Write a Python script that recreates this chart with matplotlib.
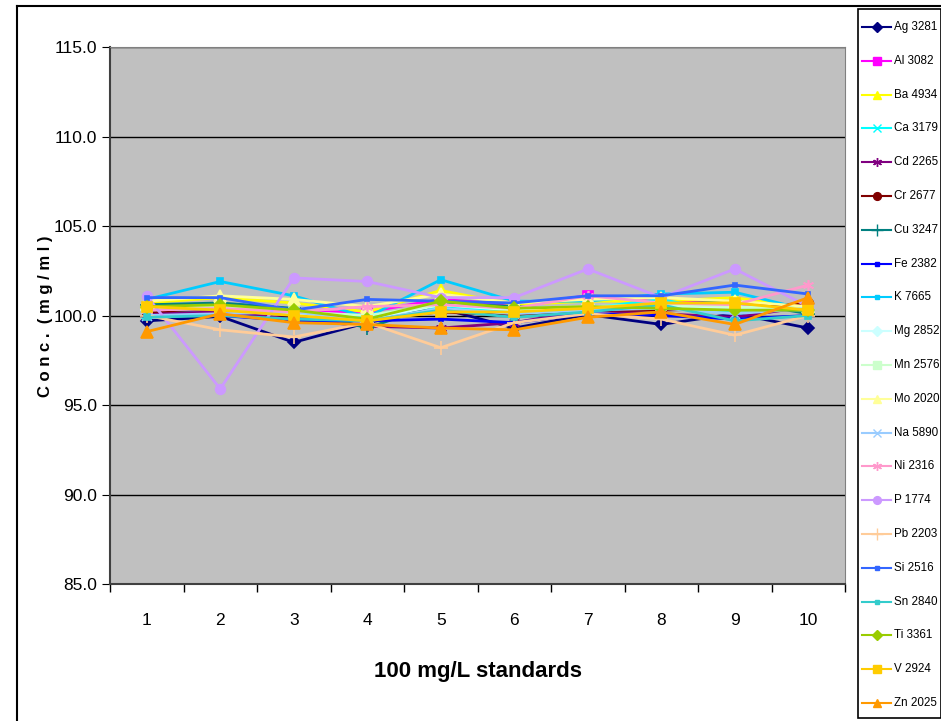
import matplotlib
matplotlib.use("Agg")
import matplotlib.pyplot as plt
from matplotlib.lines import Line2D
from matplotlib.patches import Rectangle

plt.rcParams['font.family'] = ['Liberation Sans', 'DejaVu Sans']

# data
standards = [1, 2, 3, 4, 5, 6, 7, 8, 9, 10]

ag = [99.7, 99.95, 98.5, 99.6, 100.4, 99.3, 100.05, 99.5, 100.1, 99.3]
al = [100.4, 100.5, 100.2, 100.2, 100.9, 100.6, 101.1, 100.9, 100.6, 100.4]
ba = [100.7, 101.0, 100.7, 100.2, 101.4, 100.6, 100.8, 100.8, 101.0, 100.4]
ca = [100.1, 100.4, 100.1, 99.9, 100.5, 100.2, 100.4, 100.9, 100.1, 100.5]
cd = [100.1, 100.2, 99.8, 99.4, 99.3, 99.6, 100.3, 100.1, 99.9, 100.5]
cr = [100.2, 100.4, 100.0, 99.8, 100.2, 100.0, 100.3, 100.3, 100.4, 100.7]
cu = [100.6, 100.7, 100.4, 99.3, 100.7, 100.5, 100.3, 100.6, 100.8, 100.1]
fe = [100.0, 100.0, 99.7, 99.7, 99.8, 99.6, 100.1, 100.0, 99.8, 100.0]
k = [100.9, 101.9, 101.1, 99.9, 102.0, 100.8, 100.8, 101.2, 101.3, 100.3]
mg = [100.3, 100.4, 100.1, 99.8, 100.6, 100.3, 100.4, 100.5, 100.4, 100.3]
mn = [100.4, 100.5, 100.2, 100.0, 100.6, 100.4, 100.5, 100.6, 100.5, 100.4]
mo = [100.8, 101.1, 100.9, 100.5, 101.2, 100.7, 100.9, 101.0, 100.8, 100.5]
na = [100.0, 100.1, 100.2, 99.7, 100.4, 100.1, 100.3, 100.4, 100.1, 100.4]
ni = [100.3, 100.4, 100.2, 100.5, 100.6, 100.4, 101.1, 100.7, 100.6, 101.7]
p = [101.1, 95.9, 102.1, 101.9, 101.0, 101.0, 102.6, 101.0, 102.6, 100.5]
pb = [100.0, 99.2, 98.8, 99.6, 98.2, 99.6, 100.1, 99.8, 98.9, 100.0]
si = [101.0, 101.0, 100.3, 100.9, 100.8, 100.7, 101.1, 101.1, 101.7, 101.2]
sn = [99.9, 100.0, 99.8, 99.7, 100.3, 99.9, 100.2, 100.6, 99.7, 100.0]
ti = [100.5, 100.6, 100.3, 99.8, 100.8, 100.4, 100.5, 100.4, 100.3, 100.3]
v = [100.5, 100.3, 100.0, 99.7, 100.2, 100.2, 100.4, 100.7, 100.7, 100.3]
zn = [99.1, 100.1, 99.6, 99.5, 99.3, 99.2, 99.9, 100.2, 99.5, 101.0]

labels = ['Ag 3281', 'Al 3082', 'Ba 4934', 'Ca 3179', 'Cd 2265', 'Cr 2677', 'Cu 3247',
          'Fe 2382', 'K 7665', 'Mg 2852', 'Mn 2576', 'Mo 2020', 'Na 5890', 'Ni 2316',
          'P 1774', 'Pb 2203', 'Si 2516', 'Sn 2840', 'Ti 3361', 'V 2924', 'Zn 2025']
series = [ag, al, ba, ca, cd, cr, cu, fe, k, mg, mn, mo, na, ni, p, pb, si, sn, ti, v, zn]

# styles (Excel default series palette)
colors = ['#000080', '#FF00FF', '#FFFF00', '#00FFFF', '#800080', '#800000', '#008080',
          '#0000FF', '#00CCFF', '#CCFFFF', '#CCFFCC', '#FFFF99', '#99CCFF', '#FF99CC',
          '#CC99FF', '#FFCC99', '#3366FF', '#33CCCC', '#99CC00', '#FFCC00', '#FF9900']
markers = ['D', 's', '^', 'x', (6, 2, 0), 'o', '+', 's', 's', 'D', 's', '^', 'x', (6, 2, 0),
           'o', '+', 's', 's', 'D', 's', '^']
msizes = [6, 7, 8, 7, 8, 7, 10, 3, 4, 6, 7, 8, 7, 8, 7, 10, 3, 4, 6, 7, 8]

fig = plt.figure(figsize=(9.41, 7.21), dpi=100)
W, H = 941, 721
ax = fig.add_axes([110 / W, 1 - 584 / H, (845 - 110) / W, (584 - 47) / H])
ax.set_facecolor('#C0C0C0')

for vals, lab, c, m, ms in zip(series, labels, colors, markers, msizes):
    ax.plot(standards, vals, color=c, marker=m, markersize=ms, linewidth=2,
            markeredgewidth=1.2, label=lab)

ax.set_xlim(0.5, 10.5)
ax.set_ylim(85, 115)
ax.set_yticks([85, 90, 95, 100, 105, 110, 115])
ax.set_yticklabels([f'{t:.1f}' for t in [85, 90, 95, 100, 105, 110, 115]])
ax.yaxis.grid(True, color='black', linewidth=1)
ax.set_axisbelow(True)

ax.set_xticks(standards)
ax.set_xticklabels([str(s) for s in standards])
ax.set_xticks([x + 0.5 for x in range(0, 11)], minor=True)
ax.tick_params(axis='x', which='major', length=0, pad=21, labelsize=12.5)
ax.tick_params(axis='x', which='minor', length=6, direction='out', width=1)
ax.tick_params(axis='y', length=6, direction='out', labelsize=12.5, pad=3)

for side in ['top', 'right']:
    ax.spines[side].set_color('#808080')
for side in ['left', 'bottom']:
    ax.spines[side].set_color('#404040')
    ax.spines[side].set_linewidth(1.5)

fig.text(46 / W, 1 - 316 / H, 'C o n c .  ( m g / m l )', rotation=90, ha='center',
         va='center', fontsize=12, fontweight='bold')
fig.text(478 / W, 1 - 672 / H, '100 mg/L standards', ha='center', va='center',
         fontsize=16, fontweight='bold')

# outer chart frame
fig.add_artist(Line2D([17 / W, 17 / W], [0, 1 - 6 / H], color='black', linewidth=1.5,
                      transform=fig.transFigure))
fig.add_artist(Line2D([17 / W, 1], [1 - 6 / H, 1 - 6 / H], color='black', linewidth=1.5,
                      transform=fig.transFigure))

# legend box, drawn by hand to get the tight Excel spacing
fig.add_artist(Rectangle((858 / W, 1 - 718 / H), (W - 858) / W, (718 - 9) / H,
                         facecolor='white', edgecolor='black', linewidth=1.2,
                         transform=fig.transFigure))
row_top, row_step = 27, 33.8
for i, (lab, c, m, ms) in enumerate(zip(labels, colors, markers, msizes)):
    yy = 1 - (row_top + i * row_step) / H
    fig.add_artist(Line2D([862 / W, 891 / W], [yy, yy], color=c, linewidth=1.5,
                          transform=fig.transFigure))
    fig.add_artist(Line2D([876.5 / W], [yy], color=c, marker=m, markersize=ms * 0.8,
                          markeredgewidth=1.0, linestyle='none', transform=fig.transFigure))
    fig.text(894 / W, yy, lab, ha='left', va='center', fontsize=8.4)

fig.savefig('out.png', dpi=100)
